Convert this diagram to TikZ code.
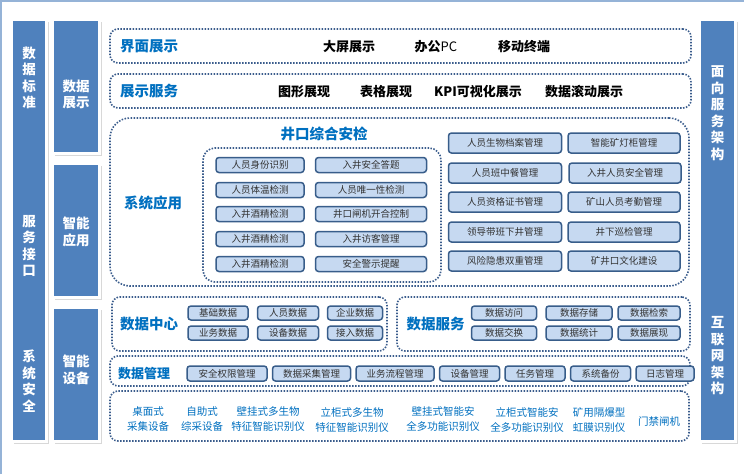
\documentclass[tikz,border=0pt]{standalone}
\usepackage{fontspec}
\setmainfont{Noto Sans CJK SC}
\usetikzlibrary{positioning,shadows}
\definecolor{barblue}{HTML}{4F81BD}
\definecolor{headblue}{HTML}{0070C0}
\definecolor{btnfill}{HTML}{C6D9F1}
\definecolor{btnline}{HTML}{385D8A}
\definecolor{dotblue}{HTML}{3A5C8C}
\definecolor{edgeblue}{HTML}{95B3D7}

\begin{document}
\begin{tikzpicture}[x=1pt,y=-1pt,
  bar/.style={fill=barblue,draw=white,line width=3pt,inner sep=0pt,drop shadow={shadow xshift=2pt,shadow yshift=-2.5pt,opacity=0.3}},
  bartext/.style={text=white,font=\fontsize{13.5}{16.5}\selectfont\bfseries,align=center,inner sep=0pt},
  dotbox/.style={draw=dotblue,line width=1.6pt,dash pattern=on 1.5pt off 1.5pt,rounded corners=8pt,inner sep=0pt},
  head/.style={text=headblue,font=\fontsize{14.5}{16}\selectfont\bfseries,inner sep=0pt},
  item/.style={font=\fontsize{13}{15}\selectfont\bfseries,inner sep=0pt},
  btn/.style={draw=btnline,fill=btnfill,line width=1.5pt,rounded corners=3pt,inner sep=0pt,font=\fontsize{9.5}{11}\selectfont,text=black!80},
  dev/.style={text=headblue,font=\fontsize{10.5}{15}\selectfont,align=center,inner sep=0pt}]
\useasboundingbox[fill=white] (0,0) rectangle (744,474);
\draw[edgeblue,line width=1.5pt] (0.75,474) -- (0.75,0.75) -- (744,0.75);

\node[bar,minimum width=35pt,minimum height=422pt] (std) at (29,230.5) {};
\node[bartext] (stdA) at (29,78) {数\\据\\标\\准};
\node[bartext] (stdB) at (29,246) {服\\务\\接\\口};
\node[bartext] (stdC) at (29,381) {系\\统\\安\\全};

\node[bar,minimum width=47pt,minimum height=134pt] (show) at (76,86.5) {};
\node[bar,minimum width=47pt,minimum height=134pt] (smart) at (76,230.5) {};
\node[bar,minimum width=47pt,minimum height=134pt] (device) at (76,374.5) {};
\node[bartext] (showT) at (76,94.5) {数据\\展示};
\node[bartext] (smartT) at (76,232) {智能\\应用};
\node[bartext] (deviceT) at (76,370) {智能\\设备};

\node[bar,minimum width=36pt,minimum height=422pt] (arch) at (717.5,230.5) {};
\node[bartext] (archA) at (717.5,113) {面\\向\\服\\务\\架\\构};
\node[bartext] (archB) at (717.5,356) {互\\联\\网\\架\\构};

\node[dotbox,minimum width=581pt,minimum height=34pt] (ui) at (400.5,46) {};
\node[head] (uiT) at (149,46) {界面展示};
\node[item] (bigscr) at (349,47) {大屏展示};
\node[item] (office) at (436,47) {办公{\mdseries PC}};
\node[item] (mobile) at (524,47) {移动终端};

\node[dotbox,minimum width=581pt,minimum height=34pt] (svc) at (400.5,91) {};
\node[head] (svcT) at (149,91) {展示服务};
\node[item] (graph) at (304,92) {图形展现};
\node[item] (table) at (386,92) {表格展现};
\node[item] (kpi) at (478,92) {KPI可视化展示};
\node[item] (roll) at (584,92) {数据滚动展示};

\node[dotbox,rounded corners=20pt,minimum width=579pt,minimum height=168pt] (app) at (399.5,202) {};
\node[head] (appT) at (153,203) {系统应用};
\node[head] (chkT) at (324,134) {井口综合安检};
\node[dotbox,rounded corners=12pt,minimum width=238pt,minimum height=134pt] (chk) at (322,215) {};

\node[btn,minimum width=88pt,minimum height=15pt] (c1) at (260,165) {人员身份识别};
\node[btn,minimum width=88pt,minimum height=15pt] (c2) at (260,190) {人员体温检测};
\node[btn,minimum width=88pt,minimum height=15pt] (c3) at (260,214) {入井酒精检测};
\node[btn,minimum width=88pt,minimum height=15pt] (c4) at (260,239) {入井酒精检测};
\node[btn,minimum width=88pt,minimum height=15pt] (c5) at (260,264) {入井酒精检测};
\node[btn,minimum width=111pt,minimum height=15pt] (d1) at (371,165) {入井安全答题};
\node[btn,minimum width=111pt,minimum height=15pt] (d2) at (371,190) {人员唯一性检测};
\node[btn,minimum width=111pt,minimum height=15pt] (d3) at (371,214) {井口闸机开合控制};
\node[btn,minimum width=111pt,minimum height=15pt] (d4) at (371,239) {入井访客管理};
\node[btn,minimum width=111pt,minimum height=15pt] (d5) at (371,264) {安全警示提醒};

\node[btn,minimum width=113pt,minimum height=20pt] (e1) at (505,143) {人员生物档案管理};
\node[btn,minimum width=113pt,minimum height=20pt] (e2) at (505,173) {人员班中餐管理};
\node[btn,minimum width=113pt,minimum height=20pt] (e3) at (505,202) {人员资格证书管理};
\node[btn,minimum width=113pt,minimum height=20pt] (e4) at (505,232) {领导带班下井管理};
\node[btn,minimum width=113pt,minimum height=20pt] (e5) at (505,261) {风险隐患双重管理};
\node[btn,minimum width=112pt,minimum height=20pt] (f1) at (624,143) {智能矿灯柜管理};
\node[btn,minimum width=112pt,minimum height=20pt] (f2) at (625,173) {入井人员安全管理};
\node[btn,minimum width=112pt,minimum height=20pt] (f3) at (624,202) {矿山人员考勤管理};
\node[btn,minimum width=112pt,minimum height=20pt] (f4) at (624,232) {井下巡检管理};
\node[btn,minimum width=112pt,minimum height=20pt] (f5) at (624,261) {矿井口文化建设};

\node[dotbox,minimum width=275pt,minimum height=54pt] (dc) at (249.5,324) {};
\node[head] (dcT) at (149,324) {数据中心};
\node[btn,minimum width=60pt,minimum height=14pt] (dc1) at (218,313) {基础数据};
\node[btn,minimum width=61pt,minimum height=14pt] (dc2) at (288,313) {人员数据};
\node[btn,minimum width=55pt,minimum height=14pt] (dc3) at (355,313) {企业数据};
\node[btn,minimum width=60pt,minimum height=14pt] (dc4) at (218,333) {业务数据};
\node[btn,minimum width=61pt,minimum height=14pt] (dc5) at (288,333) {设备数据};
\node[btn,minimum width=55pt,minimum height=14pt] (dc6) at (355,333) {接入数据};

\node[dotbox,minimum width=293pt,minimum height=54pt] (ds) at (543.5,324) {};
\node[head] (dsT) at (435.5,324) {数据服务};
\node[btn,minimum width=65pt,minimum height=14pt] (ds1) at (504,313) {数据访问};
\node[btn,minimum width=66pt,minimum height=14pt] (ds2) at (579,313) {数据存储};
\node[btn,minimum width=62pt,minimum height=14pt] (ds3) at (649,313) {数据检索};
\node[btn,minimum width=65pt,minimum height=14pt] (ds4) at (504,333) {数据交换};
\node[btn,minimum width=66pt,minimum height=14pt] (ds5) at (579,333) {数据统计};
\node[btn,minimum width=62pt,minimum height=14pt] (ds6) at (649,333) {数据展现};

\node[dotbox,minimum width=580pt,minimum height=30pt] (mg) at (400,371) {};
\node[head,font=\fontsize{13}{15}\selectfont\bfseries] (mgT) at (144,374) {数据管理};
\node[btn,minimum width=80pt,minimum height=15pt] (m1) at (227,373.5) {安全权限管理};
\node[btn,minimum width=78pt,minimum height=15pt,right=4pt of m1] (m2) {数据采集管理};
\node[btn,minimum width=78pt,minimum height=15pt,right=4pt of m2] (m3) {业务流程管理};
\node[btn,minimum width=60pt,minimum height=15pt,right=4pt of m3] (m4) {设备管理};
\node[btn,minimum width=60pt,minimum height=15pt,right=4pt of m4] (m5) {任务管理};
\node[btn,minimum width=60pt,minimum height=15pt,right=4pt of m5] (m6) {系统备份};
\node[btn,minimum width=58pt,minimum height=15pt,right=4pt of m6] (m7) {日志管理};

\node[dotbox,minimum width=579pt,minimum height=50pt] (dev) at (399.5,416) {};
\node[dev] (v1) at (148,419.5) {桌面式\\采集设备};
\node[dev] (v2) at (202,419.5) {自助式\\综采设备};
\node[dev] (v3) at (268,419.5) {壁挂式多生物\\特征智能识别仪};
\node[dev] (v4) at (352,419.5) {立柜式多生物\\特征智能识别仪};
\node[dev] (v5) at (443,419.5) {壁挂式智能安\\全多功能识别仪};
\node[dev] (v6) at (527,419.5) {立柜式智能安\\全多功能识别仪};
\node[dev] (v7) at (599,419.5) {矿用隔爆型\\虹膜识别仪};
\node[dev] (v8) at (659,422) {门禁闸机};
\end{tikzpicture}
\end{document}
